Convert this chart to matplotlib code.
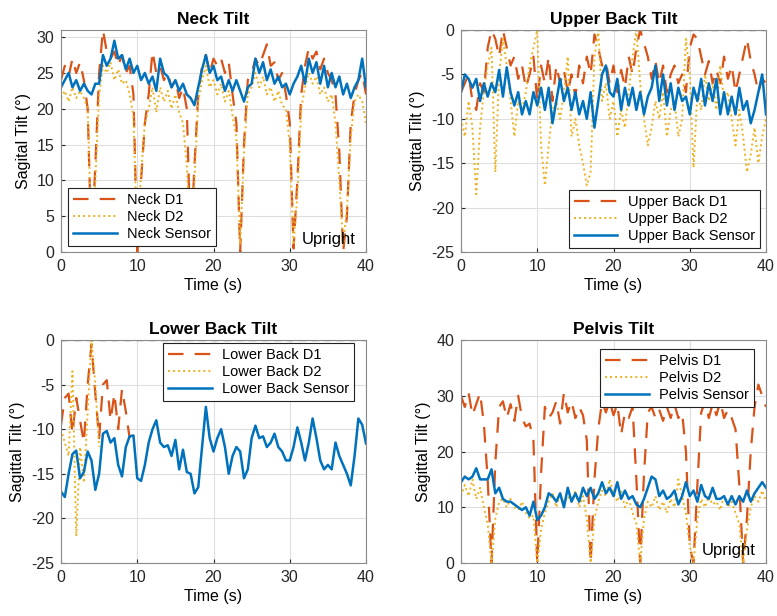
import numpy as np
import matplotlib
matplotlib.use('Agg')
import matplotlib.pyplot as plt

plt.rcParams['font.family'] = ['Liberation Sans', 'DejaVu Sans']
plt.rcParams['axes.unicode_minus'] = False

# sampled every 0.5 s, 0..40 s
time = np.arange(81) * 0.5

neck_d1 = [24, 26, 24.5, 27, 25, 26.5, 24, 20, 0.5, 12,
           25, 31, 28, 27, 28, 26, 27.5, 25, 26, 22,
           0, 10, 18, 22, 28, 25, 26, 24, 25, 23,
           24, 21.5, 23, 20, 0.5, 12, 22, 26, 27.5, 25,
           27, 26, 27, 25, 26.5, 22, 18, 0, 15, 24,
           25, 27, 26, 27.5, 29, 26, 26.5, 24, 25, 22,
           18, 0.5, 10, 22, 26, 28.5, 27, 28, 25.5, 27,
           25, 24, 22, 14, 0, 5, 18, 22, 24, 25,
           22]
neck_d2 = [21.5, 22.5, 21, 23, 21.5, 22.5, 21.5, 20, 2, 10,
           22, 26, 25, 26.5, 24, 25.5, 23.5, 24, 22, 19,
           1, 11, 18, 20, 23, 19.5, 23, 21, 22.5, 20,
           22, 19.5, 18, 12, 1, 10, 21, 24, 26, 23,
           24, 22, 23.5, 21, 22.5, 19, 16, 1, 14, 22,
           23, 25, 23, 24.5, 22, 23, 21, 22.5, 20.5, 20,
           15, 1, 8, 20, 23, 25, 23.5, 24.5, 22, 23,
           21, 22, 18, 10, 1, 6, 16, 21, 22, 21,
           18]
neck_sensor = [23, 24, 25, 23, 24, 22.5, 23.5, 22.5, 22, 23.5,
               23.5, 27.5, 26, 27, 29.5, 27, 27.5, 25.5, 27, 25,
               26, 24, 25, 23.5, 24.5, 22.5, 27, 25, 24.5, 23,
               24, 22.5, 23.5, 22, 21.5, 20.5, 23, 25.5, 27.5, 25,
               26, 24, 24.5, 22.5, 24, 22.5, 24, 22.5, 21, 23,
               23.5, 27, 25, 26.5, 24, 25.5, 23.5, 24.5, 23, 23.5,
               22, 23.5, 24.5, 26, 23.5, 27, 25, 26.5, 23.5, 26,
               23, 25, 23, 24.5, 22, 23.5, 21.5, 23, 24, 27,
               23]

upper_d1 = [-7, -6, -5, -8, -9, -6, -7, -2, 0, -1,
            -3, 0, -2, -4, -3, -5.5, -4, -6.5, -5, -3,
            -8, -4, -6, -3, -8, -4, -6, -4.5, -7, -5,
            -7.5, -4, -6, -3, -5, -0.5, -2, -4, -3.5, -6,
            -4, -7, -4.5, -6.5, -3, -5, -2, 0, -1.5, -3,
            -5.5, -3.5, -6, -4, -7, -5, -4, -6, -5, -7,
            -2, -0.5, -1, -3, -5, -3.5, -6, -4.5, -6, -3,
            -5.5, -4, -7, -5, -3, -1, -3.5, -5, -7, -5.5,
            -6]
upper_d2 = [-10, -12, -8, -11, -18.5, -11, -7, -4, -2, -16,
            -5, -1, -4, -8, -12, -8, -9, -7, -4, -2,
            0, -13, -17.5, -13, -9, -8, -10, -7, -3, -12,
            -10, -13, -15, -17.5, -16, -3, 0, -8, -6, -10,
            -8, -12, -9, -11, -7, -3, 0, -6, -10, -13,
            -11, -8, -10, -7, -12, -9, -8, -12, -10, -1,
            -5, -15.5, -7, -9, -5, -8, -6, -9, -4, -8,
            -7, -10, -13, -9, -12, -16, -14, -11, -15, -12,
            -10]
upper_sensor = [-7, -5, -5.5, -6.5, -5.5, -8, -6, -7.5, -6, -7,
                -4.5, -7.5, -4.2, -7, -8.5, -7, -9.5, -8, -9.5, -7,
                -8.5, -6.5, -9, -6.5, -10.5, -8, -5.5, -8, -6.5, -9,
                -7, -9.5, -8, -10, -7, -11, -8, -5, -4, -7,
                -7.5, -5.5, -9, -6.5, -8.5, -6.5, -9, -7, -9.5, -7.5,
                -6.5, -4, -8, -5, -8.5, -6, -9, -6.5, -8, -7.5,
                -9.5, -6.5, -8, -5.5, -8.5, -6, -8, -5.5, -9.5, -7,
                -9.5, -7.5, -9.5, -6.5, -9, -8, -10.5, -9, -7, -5,
                -9.5]

# lower back D1 / D2 only recorded over the first seconds
lower_d1_time = np.arange(19) * 0.5
lower_d1 = [-9.5, -6.5, -6, -10.5, -6.5, -9, -11.5, -5, -0.5, -6,
            -11, -5, -4.5, -9, -6, -10, -5.5, -8, -11]
lower_d2_time = np.arange(11) * 0.5
lower_d2 = [-10, -11.5, -13, -3.5, -22, -12, -16, -8, 0, -5, -12]
lower_sensor = [-17, -17.6, -15, -12.8, -12.4, -15.5, -14.8, -12.5, -13.5, -16.8,
                -15, -10.5, -10.2, -11.5, -11, -14, -15.3, -12, -10.8, -10.7,
                -15.5, -15.8, -14, -11.5, -10, -9, -11.5, -12, -11.8, -13,
                -11.2, -14.5, -12.3, -14.8, -15, -17.2, -16.5, -12, -7.5, -11,
                -12.5, -11, -10, -12, -15, -13, -12, -12.5, -15.5, -14.5,
                -11, -9.6, -11, -10.8, -12, -11.5, -10.5, -12, -12.5, -13.5,
                -13.5, -12, -9.8, -11.5, -13.5, -11.5, -8.8, -11, -13.5, -14.5,
                -14, -14.5, -11.5, -13, -14, -15, -16.3, -13, -8.8, -9.5,
                -11.6]

pelvis_d1 = [30, 28, 30.5, 26.5, 28.5, 30.5, 25, 15, 0, 18,
             28, 29, 26, 28.5, 25.5, 30, 26, 24.5, 25, 22,
             0, 16, 28, 26, 27, 29, 25, 30.5, 27, 29,
             26, 28, 26.5, 22, 0, 15, 24, 29, 27, 29,
             26.5, 28.5, 23, 27, 26, 28, 15, 0, 16, 27,
             28, 26, 27.5, 25.5, 28, 26, 28.5, 26, 27, 20,
             3, 0, 14, 27, 29, 26, 28.5, 26.5, 29, 26,
             27.5, 26, 24, 14, 0, 8, 20, 28, 32, 30,
             28]
pelvis_d2 = [12, 14, 12, 15, 11.5, 13.5, 10, 7, 0, 8,
             11, 11.5, 10, 11.5, 10, 9.5, 11, 9, 8, 8.5,
             0, 6, 9, 11, 12.5, 10, 12.5, 10.5, 12, 11,
             13, 10, 12, 8, 0, 8, 11, 13, 12, 15,
             12.5, 11, 13, 10, 11.5, 9, 7, 0, 8, 11,
             10, 12, 9.5, 11, 9, 11.5, 10, 15, 12, 9,
             3, 0, 8, 11.5, 10, 12, 10.5, 11, 9.5, 12,
             10, 11, 9, 7, 0, 6, 10, 12, 11, 13,
             11]
pelvis_sensor = [14.5, 15.5, 15, 15.5, 17, 15, 15, 15, 16.8, 12.5,
                 13.5, 11.5, 11, 11, 10.5, 10, 9.5, 10, 8.5, 11,
                 7.7, 8.5, 10, 12.5, 12, 11, 12.5, 10, 13.5, 11,
                 12.5, 11, 13.5, 12, 13.5, 11.5, 12.5, 14.5, 12.5, 13.5,
                 12, 14.5, 11.5, 13, 11.5, 12, 10.5, 10, 11.5, 13.5,
                 15.5, 15, 12, 13, 11.5, 12, 13, 10.5, 12, 14.5,
                 12, 13, 11, 14, 12, 11.5, 13.5, 11.5, 11.5, 12,
                 10.5, 12, 10.5, 12, 11, 13, 11, 12.5, 13.5, 14.5,
                 13.5]

C_D1 = '#D95319'
C_D2 = '#EDB120'
C_S = '#0072BD'

W, H = 777, 616
fig = plt.figure(figsize=(W / 100, H / 100), dpi=100)


def make_ax(x0, y0, x1, y1):
    return fig.add_axes([x0 / W, 1 - y1 / H, (x1 - x0) / W, (y1 - y0) / H])


def style(ax, ylim, yticks, ylabel, title):
    ax.set_xlim(0, 40)
    ax.set_ylim(*ylim)
    ax.set_xticks([0, 10, 20, 30, 40])
    ax.set_yticks(yticks)
    ax.grid(True, color='#dedede', lw=0.8)
    ax.set_axisbelow(True)
    ax.tick_params(direction='in', labelsize=11.5, length=3, pad=5,
                   colors='#262626')
    for s in ax.spines.values():
        s.set_color('#8a8a8a')
        s.set_linewidth(0.8)
    ax.set_xlabel('Time (s)', fontsize=11.5, labelpad=3)
    ax.set_ylabel(ylabel, fontsize=11.5, labelpad=4)
    ax.set_title(title, fontsize=12.5, fontweight='bold', pad=4)


def draw(ax, t1, d1, t2, d2, ts, sensor, name):
    ax.plot(t1, d1, color=C_D1, lw=1.6, ls=(0, (7, 5)), label=name + ' D1')
    ax.plot(t2, d2, color=C_D2, lw=1.4, ls=(0, (1, 1.6)), label=name + ' D2')
    ax.plot(ts, sensor, color=C_S, lw=1.8, label=name + ' Sensor')


def legend(ax, loc, anchor):
    leg = ax.legend(loc=loc, bbox_to_anchor=anchor, fontsize=10.5,
                    handlelength=3.0, handletextpad=0.7, labelspacing=0.2,
                    borderpad=0.35, borderaxespad=0, fancybox=False,
                    framealpha=1, edgecolor='#222222')
    leg.get_frame().set_linewidth(0.8)


# Neck
ax = make_ax(61, 30, 366, 252)
draw(ax, time, neck_d1, time, neck_d2, time, neck_sensor, 'Neck')
style(ax, (0, 31), [0, 5, 10, 15, 20, 25, 30], 'Sagital Tilt (°)', 'Neck Tilt')
legend(ax, 'lower left', (0.023, 0.027))
ax.text(31.6, 1.8, 'Upright', fontsize=12, va='center')

# Upper back
ax = make_ax(461, 30, 766, 252)
ax.axhline(0, color='#777777', lw=1.0, ls=(0, (5, 4)))
draw(ax, time, upper_d1, time, upper_d2, time, upper_sensor, 'Upper Back')
style(ax, (-25, 0), [-25, -20, -15, -10, -5, 0], 'Sagittal Tilt (°)', 'Upper Back Tilt')
legend(ax, 'lower right', (0.98, 0.018))

# Lower back
ax = make_ax(61, 340, 366, 563)
ax.axhline(0, color='#777777', lw=1.0, ls=(0, (5, 4)))
draw(ax, lower_d1_time, lower_d1, lower_d2_time, lower_d2, time, lower_sensor, 'Lower Back')
style(ax, (-25, 0), [-25, -20, -15, -10, -5, 0], 'Sagittal Tilt (°)', 'Lower Back Tilt')
legend(ax, 'upper right', (0.961, 0.987))

# Pelvis
ax = make_ax(461, 340, 766, 563)
draw(ax, time, pelvis_d1, time, pelvis_d2, time, pelvis_sensor, 'Pelvis')
style(ax, (0, 40), [0, 10, 20, 30, 40], 'Sagittal Tilt (°)', 'Pelvis Tilt')
legend(ax, 'upper right', (0.961, 0.96))
ax.text(31.6, 2.3, 'Upright', fontsize=12, va='center')

fig.savefig('out.png', dpi=100)
